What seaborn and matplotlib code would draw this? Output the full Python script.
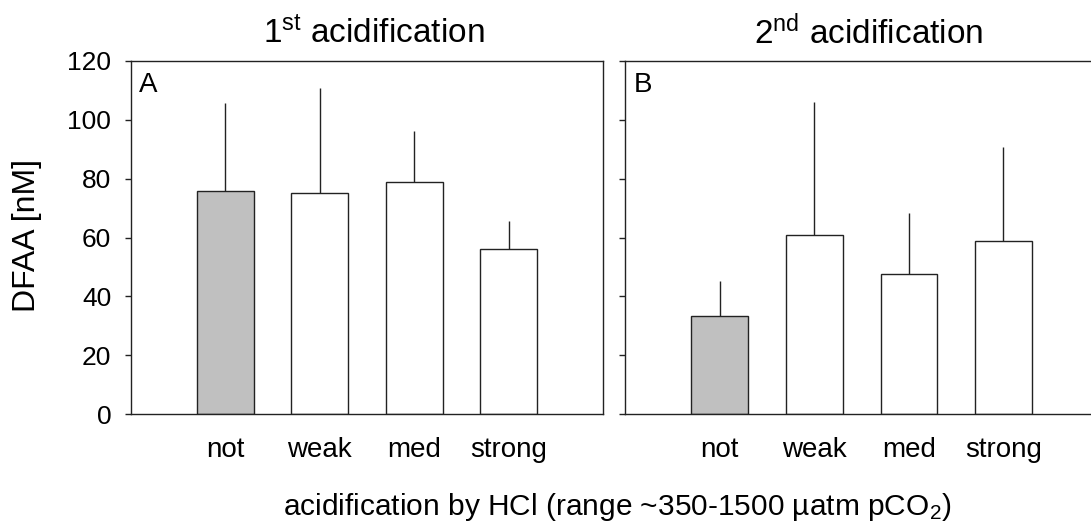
import matplotlib
matplotlib.use("Agg")
import matplotlib.pyplot as plt
import seaborn as sns
import pandas as pd

sns.set_style("white")
plt.rcParams["font.family"] = ["Liberation Sans", "DejaVu Sans"]
plt.rcParams["mathtext.fontset"] = "custom"
plt.rcParams["mathtext.rm"] = "Liberation Sans"
plt.rcParams["mathtext.it"] = "Liberation Sans:italic"
plt.rcParams["text.color"] = "black"
plt.rcParams["axes.labelcolor"] = "black"
plt.rcParams["xtick.color"] = "black"
plt.rcParams["ytick.color"] = "black"

# Treatment levels
categories = ["not", "weak", "med", "strong"]

# Mean DFAA concentrations (nM) and upper error extent (SD)
first_mean = [75.8, 75.1, 78.7, 56.2]
first_sd = [30.0, 35.5, 17.5, 9.4]
second_mean = [33.5, 61.0, 47.6, 58.9]
second_sd = [11.8, 45.0, 20.7, 31.8]

panel_titles = [r"$\mathrm{1^{st}}$ acidification", r"$\mathrm{2^{nd}}$ acidification"]
panel_letters = ["A", "B"]
yticks = [0, 20, 40, 60, 80, 100, 120]

fill_colors = {"not": "#c0c0c0", "weak": "white", "med": "white", "strong": "white"}

W, H = 1091, 529
ax_left, ax_top, ax_bottom, ax_w = 130.7, 60.7, 414.3, 472.6
ax_h = ax_bottom - ax_top
fig = plt.figure(figsize=(W / 100, H / 100), dpi=100)
ax_a = fig.add_axes([ax_left / W, (H - ax_bottom) / H, ax_w / W, ax_h / H])
ax_b = fig.add_axes([625.3 / W, (H - ax_bottom) / H, ax_w / W, ax_h / H])

panels = [(ax_a, first_mean, first_sd), (ax_b, second_mean, second_sd)]
for i, (ax, means, sds) in enumerate(panels):
    df = pd.DataFrame({"treatment": categories, "dfaa": means, "sd": sds})
    sns.barplot(data=df, x="treatment", y="dfaa", hue="treatment",
                palette=fill_colors, legend=False, width=0.6,
                edgecolor="#222222", linewidth=1.0, ax=ax, zorder=2)
    ax.errorbar(range(len(categories)), df["dfaa"],
                yerr=[[0] * len(categories), df["sd"]],
                fmt="none", ecolor="#222222", elinewidth=1.0, capsize=0, zorder=1)
    ax.set_xlim(-1.0, 4.0)
    ax.set_ylim(0, 120)
    ax.set_yticks(yticks)
    ax.set_xlabel("")
    ax.set_ylabel("")
    ax.text(0.515, 1.049, panel_titles[i], transform=ax.transAxes,
            fontsize=24, ha="center", va="baseline")
    ax.text(0.017, 0.912, panel_letters[i], transform=ax.transAxes,
            fontsize=20, va="baseline", ha="left")
    ax.tick_params(axis="x", length=0, labelsize=20, pad=16)
    ax.tick_params(axis="y", direction="out", length=4, width=1,
                   color="#222222", labelsize=19, left=True, pad=10)
    for side in ax.spines.values():
        side.set_color("#222222")
        side.set_linewidth(1.0)

ax_b.set_yticklabels([])
ax_b.spines["right"].set_visible(False)

fig.text(27.5 / W, (H - 235) / H, "DFAA [nM]", rotation=90,
         ha="center", va="center", fontsize=23)
fig.text(617 / W, (H - 515) / H, r"acidification by HCl (range ~350-1500 µatm pCO$_2$)",
         ha="center", va="baseline", fontsize=21.5)

fig.savefig("out.png", dpi=100)
